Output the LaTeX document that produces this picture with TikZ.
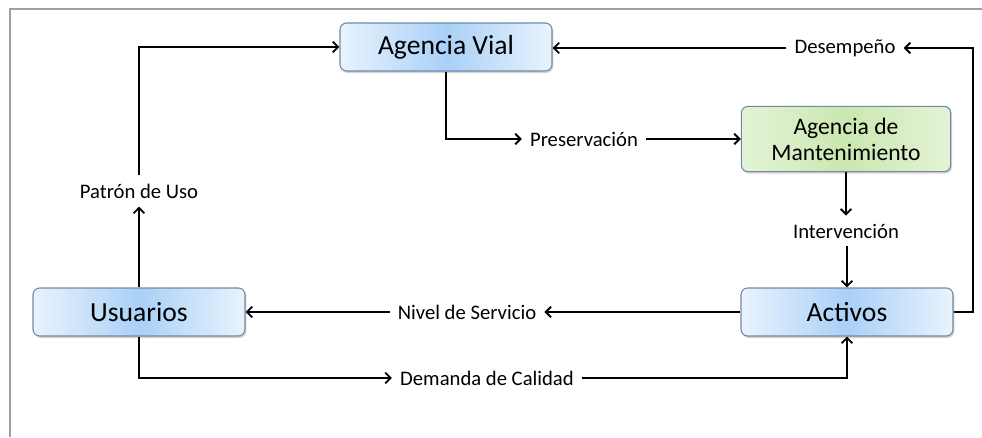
\documentclass[tikz,border=0pt]{standalone}
\usepackage{fontspec}
\setmainfont{Carlito}
\usetikzlibrary{shadows,arrows.meta}

\definecolor{boxlight}{HTML}{E9F3FD}
\definecolor{boxmid}{HTML}{A9D0F7}
\definecolor{boxedge}{HTML}{6E8AA6}
\definecolor{greenlight}{HTML}{E4F3D6}
\definecolor{greenmid}{HTML}{CBE7B0}
\definecolor{framegray}{HTML}{A0A0A0}

\begin{document}
\begin{tikzpicture}[x=0.75pt,y=-0.75pt,
  caja/.style={draw=boxedge, line width=0.8pt, rounded corners=5pt,
    left color=boxlight, right color=boxlight, middle color=boxmid,
    drop shadow={opacity=0.35, shadow xshift=1pt, shadow yshift=-1.5pt},
    minimum width=159pt, minimum height=36pt, inner sep=0pt,
    font=\fontsize{20.7}{24}\selectfont},
  cajaverde/.style={caja, left color=greenlight, right color=greenlight, middle color=greenmid,
    minimum width=157pt, minimum height=49pt, align=center,
    font=\fontsize{17.7}{19.5}\selectfont},
  etiqueta/.style={font=\fontsize{15.5}{17}\selectfont, inner xsep=6pt, inner ysep=6pt},
  flecha/.style={-{Straight Barb[length=4pt,width=8pt]}, line width=1.4pt}]
  \useasboundingbox (0,0) rectangle (982,437);
  \draw[framegray, line width=0.8pt] (10,437) -- (10,9) -- (982,9);

  % cajas
  \node[caja] (vial) at (446,47) {Agencia Vial};
  \node[cajaverde] (mant) at (846,139) {Agencia de\\Mantenimiento};
  \node[caja] (usu) at (139,312) {Usuarios};
  \node[caja] (act) at (847,312) {Activos};

  % etiquetas
  \node[etiqueta] (uso) at (139,191) {Patrón de Uso};
  \node[etiqueta] (pres) at (584,139) {Preservación};
  \node[etiqueta] (inter) at (846,231) {Intervención};
  \node[etiqueta] (desem) at (845,48) {Desempeño};
  \node[etiqueta] (nivel) at (467,312) {Nivel de Servicio};
  \node[etiqueta] (dem) at (487,378) {Demanda de Calidad};

  \draw[flecha] (usu.north) -- (uso.south);
  \draw[flecha] (uso.north) |- (vial.west);
  \draw[flecha] (vial.south) |- (pres.west);
  \draw[flecha] (pres.east) -- (mant.west);
  \draw[flecha] (mant.south) -- (mant.south |- inter.north);
  \draw[flecha] (inter.south) -- (inter.south -| act.north) -- (act.north);
  \draw[flecha] (act.east) -- (973,312) |- (desem.east);
  \draw[flecha] (desem.west) -- (desem.west -| vial.east);
  \draw[flecha] (act.west) -- (nivel.east);
  \draw[flecha] (nivel.west) -- (usu.east);
  \draw[flecha] (usu.south) |- (dem.west);
  \draw[flecha] (dem.east) -| (act.south);
\end{tikzpicture}
\end{document}
